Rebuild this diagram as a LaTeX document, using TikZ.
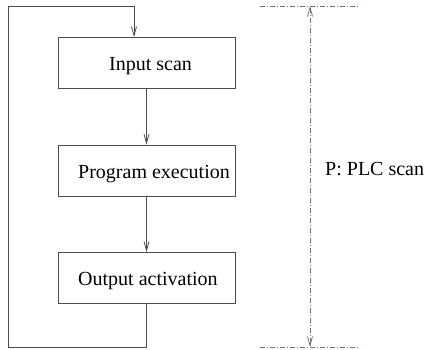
\documentclass[tikz,border=0pt]{standalone}
\usepackage{fontspec}
\setmainfont{Liberation Serif}
\usetikzlibrary{arrows.meta}
\begin{document}
\begin{tikzpicture}[x=1pt,y=-1pt,
  line/.style={draw=black!70,line width=0.9pt},
  tip/.style={-{Straight Barb[length=9pt,width=5pt,line width=0.8pt]}},
  boxst/.style={draw=black!70,line width=0.9pt,minimum width=177pt,minimum height=51pt,inner sep=0pt},
  lbl/.style={font=\fontsize{20pt}{24pt}\selectfont,inner sep=0pt,anchor=base west},
  dd/.style={draw=black!55,line width=0.8pt,dash pattern=on 5pt off 2pt on 1pt off 2pt}]
\useasboundingbox (0,0) rectangle (430,349);
\node[boxst] (in) at (146.5,62.5) {};
\node[boxst] (pe) at (146.5,170.5) {};
\node[boxst] (out) at (146.5,278) {};
\node[lbl] (tin) at (109,70) {Input scan};
\node[lbl] (tpe) at (78,178) {Program execution};
\node[lbl] (tout) at (78,285) {Output activation};
\draw[line,tip] (in.south) -- (pe.north);
\draw[line,tip] (pe.south) -- (out.north);
\coordinate (c1) at (146.5,347);
\coordinate (c2) at (8,347);
\coordinate (c3) at (8,6);
\coordinate (c4) at (134,6);
\coordinate (c5) at (134,37);
\draw[line,tip] (c1 |- out.south) -- (c1) -- (c2) -- (c3) -- (c4) -- (c5);
% dimension
\coordinate (ta) at (260,6);
\coordinate (tb) at (360,6);
\coordinate (ba) at (260,347);
\coordinate (bb) at (360,347);
\coordinate (tm) at (310,6);
\coordinate (bm) at (310,347);
\draw[dd] (ta) -- (tb);
\draw[dd] (ba) -- (bb);
\draw[dd,{Straight Barb[length=9pt,width=5pt,line width=0.8pt]}-{Straight Barb[length=9pt,width=5pt,line width=0.8pt]}] (tm) -- (bm);
\node[lbl] (p) at (325,175) {P: PLC scan};
\end{tikzpicture}
\end{document}
